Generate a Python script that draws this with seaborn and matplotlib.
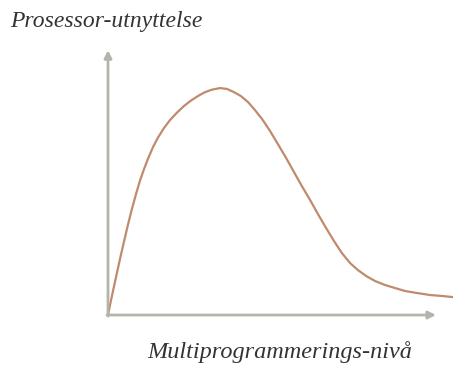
import pandas as pd
import matplotlib.pyplot as plt
import seaborn as sns

# multiprogramming level vs processor utilisation
level = [0.0, 0.061, 0.152, 0.244, 0.366, 0.488, 0.610, 0.732, 0.854, 0.976,
         1.098, 1.220, 1.372, 1.524, 1.707, 1.890, 2.104, 2.317, 2.530, 2.744,
         2.957, 3.171, 3.415, 3.63, 3.84, 4.05, 4.27, 4.48, 4.70, 4.94, 5.18,
         5.43, 5.67, 5.91, 6.16, 6.40, 6.65, 6.89, 7.13, 7.38, 7.62, 7.87,
         8.14, 8.45, 8.75, 9.05, 9.42, 9.82, 10.18, 10.52]
utilisation = [0.0, 0.044, 0.106, 0.167, 0.247, 0.324, 0.399, 0.469, 0.533,
               0.593, 0.643, 0.689, 0.740, 0.782, 0.824, 0.859, 0.892, 0.921,
               0.945, 0.965, 0.982, 0.993, 1.0, 0.996, 0.982, 0.965, 0.938,
               0.903, 0.863, 0.811, 0.753, 0.692, 0.630, 0.568, 0.507, 0.445,
               0.383, 0.326, 0.273, 0.229, 0.198, 0.172, 0.150, 0.132, 0.119,
               0.106, 0.097, 0.088, 0.084, 0.079]
label_y = "Prosessor-utnyttelse"
label_x = "Multiprogrammerings-nivå"

df = pd.DataFrame({'level': level, 'util': utilisation})

sns.set_style('white')
plt.rcParams['font.family'] = ['Liberation Serif', 'DejaVu Serif']

fig = plt.figure(figsize=(4.53, 3.67), dpi=100)
ax = fig.add_axes([0, 0, 1, 1])

axis_col = '#b3b5ad'
ax.annotate('', xy=(0, 1.167), xytext=(0, -0.005),
            arrowprops=dict(arrowstyle='-|>', color=axis_col, lw=2,
                            mutation_scale=11, shrinkA=0, shrinkB=0))
ax.annotate('', xy=(10.0, 0), xytext=(-0.03, 0),
            arrowprops=dict(arrowstyle='-|>', color=axis_col, lw=2,
                            mutation_scale=11, shrinkA=0, shrinkB=0))

sns.lineplot(data=df, x='level', y='util', sort=False, ax=ax,
             color='#c08b6c', lw=1.6, solid_joinstyle='round')

ax.set_xlim(-3.293, 10.518)
ax.set_ylim(-0.229, 1.388)
ax.axis('off')

fig.text(10 / 453, 1 - 27 / 367, label_y, style='italic', fontsize=17,
         color='#333333', ha='left', va='baseline')
fig.text(280 / 453, 1 - 358 / 367, label_x, style='italic', fontsize=17.5,
         color='#333333', ha='center', va='baseline')

plt.savefig('out.png', dpi=100)
plt.close()
